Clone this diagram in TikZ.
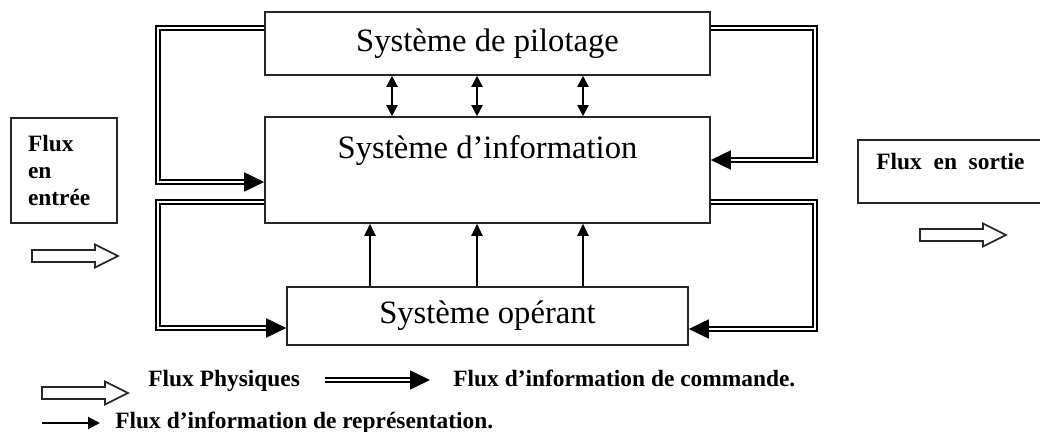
\documentclass[tikz,border=0pt]{standalone}
\usepackage{fontspec}
\setmainfont{Liberation Serif}
\usetikzlibrary{arrows.meta}
\tikzset{
  physarrow/.pic={\draw[draw=black!85,line width=0.8pt,fill=white] (0,-6)--(63,-6)--(63,-11.5)--(86,0)--(63,11.5)--(63,6)--(0,6)--cycle;}
}
\begin{document}
\begin{tikzpicture}[x=0.5pt,y=-0.5pt,
  sysbox/.style={draw=black!85,line width=0.8pt,minimum width=222.5pt,font=\fontsize{16.3}{19}\selectfont},
  flowbox/.style={draw=black!85,line width=0.8pt,font=\fontsize{11.7}{13.5}\selectfont\bfseries},
  legtext/.style={font=\fontsize{11.7}{13.5}\selectfont\bfseries,inner sep=0pt,anchor=base west},
  cmd/.style={draw=black,double,double distance=0.9pt,line width=0.85pt,-{Triangle[length=10pt,width=9.5pt]}},
  bidir/.style={line width=1pt,{Triangle[length=5.5pt,width=5.5pt]}-{Triangle[length=5.5pt,width=5.5pt]}},
  repr/.style={line width=1pt,-{Triangle[length=6pt,width=5.5pt]}}]
  \useasboundingbox (0,0) rectangle (1040,432);

  % les trois systemes
  \node[sysbox,minimum height=31.5pt] (pil) at (487.5,43.5) {Système de pilotage};
  \node[sysbox,minimum height=53pt,
    label={[anchor=base,yshift=-21pt,font=\fontsize{16.3}{19}\selectfont]north:Système d’information}] (info) at (487.5,170) {};
  \node[sysbox,minimum width=200.5pt,minimum height=29pt] (oper) at (487.5,316) {Système opérant};

  % flux en entree / en sortie
  \node[flowbox,minimum height=52.5pt,text width=36pt,align=left,inner xsep=8.5pt] (entree) at (64,170.5) {Flux\\en\\entrée};
  \node[flowbox,minimum width=100pt,minimum height=31.5pt,anchor=north west,
    label={[legtext,xshift=9.5pt,yshift=-15.5pt]north west:Flux\ \ en\ \ sortie}] (sortie) at (857,139) {};
  \pic at (32,256) {physarrow};
  \pic at (920,235) {physarrow};

  % information de commande
  \coordinate (lrail) at (158,0);
  \coordinate (rrail) at (815,0);
  \draw[cmd] ([yshift=7.75pt]pil.west) -| ([yshift=-6pt]lrail |- info.west) -- ([yshift=-6pt]info.west);
  \draw[cmd] ([yshift=-16pt]info.west) -| ([yshift=-6pt]lrail |- oper.west) -- ([yshift=-6pt]oper.west);
  \draw[cmd] ([yshift=7.75pt]pil.east) -| ([yshift=5pt]rrail |- info.east) -- ([yshift=5pt]info.east);
  \draw[cmd] ([yshift=-16pt]info.east) -| ([yshift=-6.5pt]rrail |- oper.east) -- ([yshift=-6.5pt]oper.east);

  % echanges pilotage / information
  \foreach \dx in {-47.75,-5.25,47.75}
    \draw[bidir] ([xshift=\dx pt]pil.south) -- ([xshift=\dx pt]info.north);
  % information de representation
  \foreach \dx in {-58.75,-5.25,47.75}
    \draw[repr] ([xshift=\dx pt]oper.north) -- ([xshift=\dx pt]info.south);

  % legende
  \pic at (42,393) {physarrow};
  \node[legtext] (lgphys) at (148,387) {Flux Physiques};
  \coordinate (cmdA) at (325,380);
  \coordinate (cmdB) at (430,380);
  \draw[cmd] (cmdA) -- (cmdB);
  \node[legtext] (lgcmd) at (453,387) {Flux d’information de commande.};
  \coordinate (repA) at (42,423);
  \coordinate (repB) at (100,423);
  \draw[line width=1pt,-{Triangle[length=6pt,width=6pt]}] (repA) -- (repB);
  \node[legtext] (lgrep) at (115,429) {Flux d’information de représentation.};
\end{tikzpicture}
\end{document}
